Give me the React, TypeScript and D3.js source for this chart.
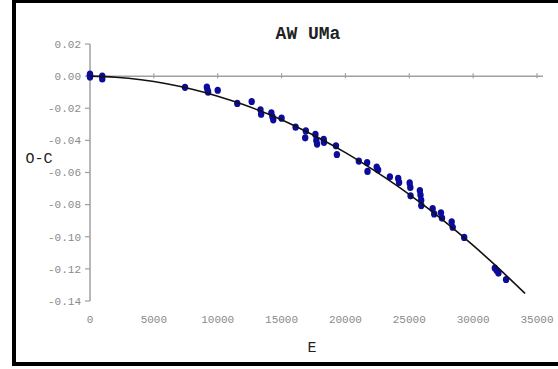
import React from "react";
import * as d3 from "d3";

// Observed minima: cycle number E and O-C residual (days)
const cycleE = [
  0, 0, 0, 0, 960, 960, 7440, 9150, 9200, 9250, 10000, 11530, 12660, 13350, 13400,
  14200, 14280, 14350, 15000, 16100, 16900, 16850, 17650, 17720, 17780, 18300, 18320,
  19260, 19330, 21050, 21700, 21730, 22450, 22560, 23480, 24130, 24200, 25030, 25080,
  25100, 25830, 25880, 25930, 25940, 26830, 26950, 27480, 27560, 28320, 28400, 29300,
  31700, 31850, 31980, 32580,
];
const residualOC = [
  0.0012, 0.0005, -0.0005, 0.0, 0.0, -0.0018, -0.007, -0.0068, -0.0085, -0.01, -0.0088,
  -0.017, -0.0158, -0.021, -0.0237, -0.0228, -0.0252, -0.0272, -0.0262, -0.0318, -0.0341,
  -0.0384, -0.0363, -0.04, -0.0423, -0.0394, -0.0412, -0.0434, -0.0488, -0.0529, -0.0538,
  -0.0593, -0.0566, -0.0583, -0.0627, -0.0637, -0.0662, -0.0665, -0.0693, -0.0745,
  -0.0712, -0.074, -0.0772, -0.0806, -0.0824, -0.0858, -0.0851, -0.0884, -0.0907,
  -0.0941, -0.1004, -0.1195, -0.121, -0.1226, -0.1266,
];

// Parabolic ephemeris trend
const trendE = [0, 2000, 4000, 6000, 8000, 10000, 12000, 14000, 16000, 18000, 20000, 22000, 24000, 26000, 28000, 30000, 32000, 34060];
const trendOC = [0, -0.0007, -0.0023, -0.0048, -0.0082, -0.0125, -0.0177, -0.0238, -0.0309, -0.0388, -0.0476, -0.0574, -0.068, -0.0796, -0.092, -0.1054, -0.1197, -0.1353];

const xTicks = [0, 5000, 10000, 15000, 20000, 25000, 30000, 35000];
const yTicks = [0.02, 0.0, -0.02, -0.04, -0.06, -0.08, -0.1, -0.12, -0.14];

const titleText = "AW UMa";
const xTitle = "E";
const yTitle = "O-C";

export default function App() {
  const W = 558;
  const H = 369;
  const x = d3.scaleLinear().domain([0, 35000]).range([90, 537]);
  const y = d3.scaleLinear().domain([0.02, -0.14]).range([44, 301]);

  const points = cycleE.map((e, i) => ({ e, oc: residualOC[i] }));
  const trend = trendE.map((e, i) => ({ e, oc: trendOC[i] }));
  const line = d3
    .line<{ e: number; oc: number }>()
    .x((d) => x(d.e))
    .y((d) => y(d.oc))
    .curve(d3.curveMonotoneX);

  const axisColor = "#a0a0a0";
  const labelColor = "#8a8a8a";
  const mono = "'Liberation Mono', 'DejaVu Sans Mono', monospace";

  return (
    <svg
      width={W}
      height={H}
      style={{ position: "absolute", left: 0, top: 0, background: "#fff" }}
    >
      <rect x={0} y={0} width={W} height={H} fill="#fff" />
      {/* frame */}
      <rect x={14} y={1} width={620} height={363} fill="none" stroke="#000" strokeWidth={4} />

      {/* title */}
      <text
        x={308}
        y={39}
        textAnchor="middle"
        fontFamily={mono}
        fontWeight="bold"
        fontSize={18}
        fill="#222"
      >
        {titleText}
      </text>

      {/* y axis */}
      <line x1={90} x2={90} y1={y(0.02)} y2={y(-0.14)} stroke={axisColor} strokeWidth={1.5} />
      {yTicks.map((t) => (
        <g key={t}>
          <line x1={85} x2={90} y1={y(t)} y2={y(t)} stroke={axisColor} strokeWidth={1.2} />
          <text
            x={81}
            y={y(t)}
            dy="0.35em"
            textAnchor="end"
            fontFamily={mono}
            fontSize={11}
            fill={labelColor}
          >
            {t.toFixed(2)}
          </text>
        </g>
      ))}

      {/* x axis along zero */}
      <line x1={90} x2={543} y1={y(0)} y2={y(0)} stroke={axisColor} strokeWidth={1.5} />
      {xTicks.map((t) => (
        <g key={t}>
          <line x1={x(t)} x2={x(t)} y1={y(0) - 3} y2={y(0) + 2} stroke={axisColor} strokeWidth={1.2} />
          <text
            x={x(t)}
            y={319}
            dy="0.35em"
            textAnchor="middle"
            fontFamily={mono}
            fontSize={11}
            fill={labelColor}
          >
            {t}
          </text>
        </g>
      ))}

      {/* axis titles */}
      <text x={312} y={352} textAnchor="middle" fontFamily={mono} fontSize={15} fill="#222">
        {xTitle}
      </text>
      <text x={39} y={163} textAnchor="middle" fontFamily={mono} fontSize={15} fill="#222">
        {yTitle}
      </text>

      {/* data */}
      {points.map((p, i) => (
        <ellipse key={i} cx={x(p.e)} cy={y(p.oc)} rx={3.2} ry={3.6} fill="#0c0c9c" />
      ))}

      {/* trend */}
      <path d={line(trend) || ""} fill="none" stroke="#111" strokeWidth={1.6} />
    </svg>
  );
}
